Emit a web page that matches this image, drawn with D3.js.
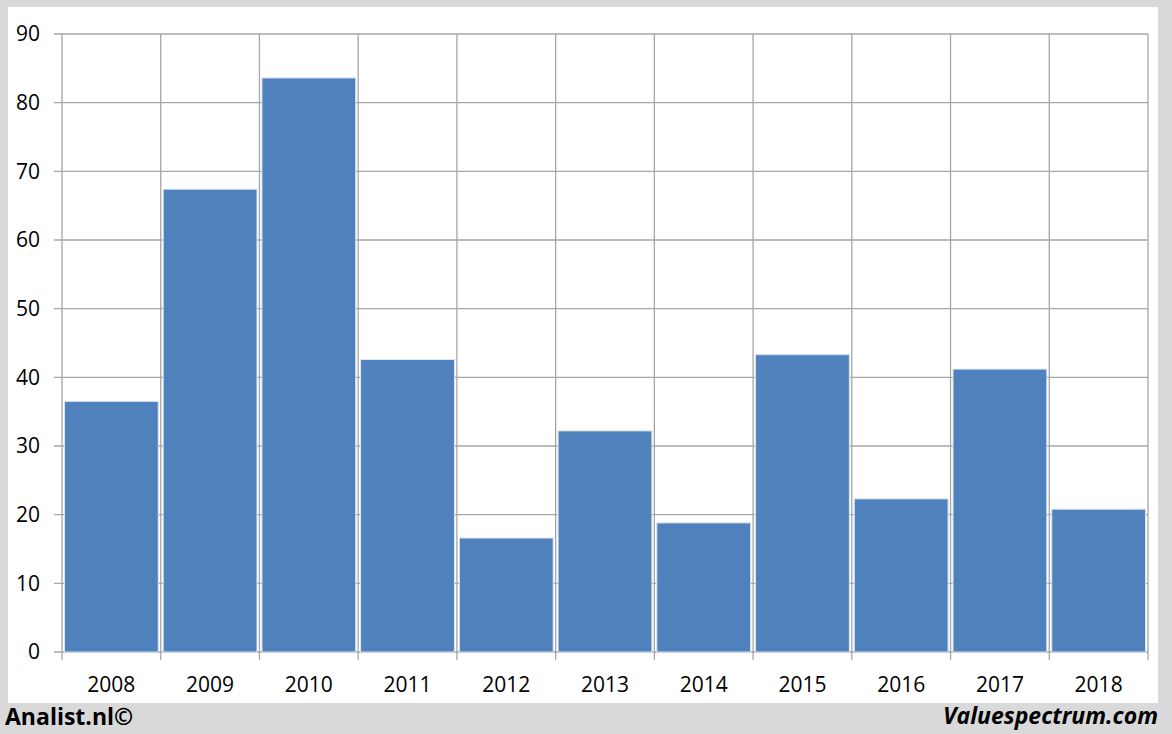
<!DOCTYPE html>
<html><head><meta charset="utf-8">
<script src="https://cdn.jsdelivr.net/npm/d3@7"></script>
<style>body{margin:0;background:#d9d9d9;}svg{display:block;}</style>
</head><body>
<svg id="c" width="1172" height="734"></svg>
<script>
const years = ["2008","2009","2010","2011","2012","2013","2014","2015","2016","2017","2018"];
const values = [36.5, 67.4, 83.6, 42.6, 16.6, 32.2, 18.8, 43.3, 22.3, 41.2, 20.8];
const yTicks = [0,10,20,30,40,50,60,70,80,90];

const svg = d3.select("#c");
const font = "'Open Sans', sans-serif";
svg.append("rect").attr("x",0).attr("y",0).attr("width",1172).attr("height",734).attr("fill","#d9d9d9");
svg.append("rect").attr("x",8).attr("y",7).attr("width",1150).attr("height",696).attr("fill","#fff");

const L=62,R=1148,T=34,B=652;
const x = d3.scaleBand().domain(years).range([L,R]).paddingInner(0.05).paddingOuter(0.025);
const xb = d3.scaleLinear().domain([0,years.length]).range([L,R]);
const y = d3.scaleLinear().domain([0,90]).range([B,T]);
const g = svg.append("g");
const grid="#a6a6a6";
g.selectAll(".hg").data(yTicks).join("line")
 .attr("x1",L-8).attr("x2",R).attr("y1",d=>y(d)).attr("y2",d=>y(d))
 .attr("stroke",grid).attr("stroke-width",1.3);
g.selectAll(".vg").data(d3.range(years.length+1)).join("line")
 .attr("x1",d=>xb(d)).attr("x2",d=>xb(d)).attr("y1",T).attr("y2",B+8)
 .attr("stroke",grid).attr("stroke-width",1.3);
g.selectAll(".bar").data(years).join("rect")
 .attr("x",d=>x(d)).attr("width",x.bandwidth())
 .attr("y",(d,i)=>y(values[i])).attr("height",(d,i)=>B-y(values[i]))
 .attr("fill","#4f81bd").attr("stroke","#dbe5f1").attr("stroke-width",1);
g.selectAll(".yl").data(yTicks).join("text")
 .attr("x",40).attr("y",d=>y(d)).attr("dy","0.35em").attr("text-anchor","end")
 .attr("font-family",font).attr("font-size",21).attr("fill","#000").text(d=>d);
g.selectAll(".xl").data(years).join("text")
 .attr("x",d=>x(d)+x.bandwidth()/2).attr("y",685).attr("dy","0.35em").attr("text-anchor","middle")
 .attr("font-family",font).attr("font-size",21).attr("fill","#000").text(d=>d);
svg.append("text").attr("x",5).attr("y",725).attr("font-family",font).attr("font-weight","bold")
 .attr("font-size",23).text("Analist.nl©");
svg.append("text").attr("x",1158).attr("y",724).attr("text-anchor","end").attr("font-family",font).attr("font-weight","bold")
 .attr("font-style","italic").attr("font-size",23).text("Valuespectrum.com");
</script>
</body></html>
